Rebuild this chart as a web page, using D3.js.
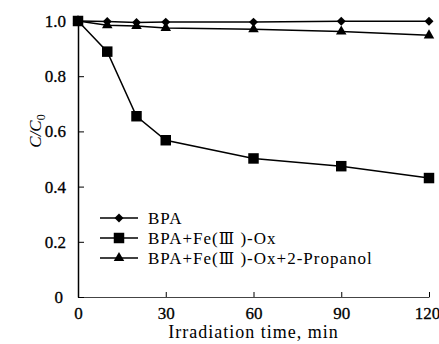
<!DOCTYPE html>
<html>
<head>
<meta charset="utf-8">
<script src="https://cdnjs.cloudflare.com/ajax/libs/d3/7.8.5/d3.min.js"></script>
<style>
  html, body { margin: 0; padding: 0; background: #fff; }
</style>
</head>
<body>
<svg width="439" height="344"></svg>
<script>
// irradiation times (min)
var times = [0, 10, 20, 30, 60, 90, 120];
// C/C0
var bpa = [1.0, 0.998, 0.995, 0.996, 0.996, 0.999, 0.999];
var bpaFe = [1.0, 0.889, 0.655, 0.568, 0.502, 0.474, 0.431];
var bpaFeProp = [1.0, 0.985, 0.982, 0.975, 0.970, 0.962, 0.948];

var seriesNames = ["BPA", "BPA+Fe(\u2162 )-Ox", "BPA+Fe(\u2162 )-Ox+2-Propanol"];
var xTicks = [0, 30, 60, 90, 120];
var yTicks = [0, 0.2, 0.4, 0.6, 0.8, 1.0];

var serif = "'Liberation Serif', 'Times New Roman', Times, serif";

var svg = d3.select("svg").attr("font-family", serif);

var x = d3.scaleLinear().domain([0, 120]).range([78, 429]);
var y = d3.scaleLinear().domain([0, 1]).range([297, 21]);

// diamond is a plain rotated square, not d3's tall one
var diamond = {
  draw: function(ctx, size) {
    var r = Math.sqrt(size / 2);
    ctx.moveTo(0, -r);
    ctx.lineTo(r, 0);
    ctx.lineTo(0, r);
    ctx.lineTo(-r, 0);
    ctx.closePath();
  }
};

var series = [
  { name: seriesNames[0], values: bpa, sym: d3.symbol(diamond, 40) },
  { name: seriesNames[1], values: bpaFe, sym: d3.symbol(d3.symbolSquare, 110) },
  { name: seriesNames[2], values: bpaFeProp, sym: d3.symbol(d3.symbolTriangle, 48) }
];

// axes
var xAxis = d3.axisBottom(x).tickValues(xTicks).tickSizeInner(-5).tickSizeOuter(0).tickPadding(10)
  .tickFormat(d3.format("d"));
var yAxis = d3.axisLeft(y).tickValues(yTicks).tickSizeInner(-6).tickSizeOuter(0).tickPadding(12)
  .tickFormat(function(d) { return d === 0 ? "0" : d3.format(".1f")(d); });

var gx = svg.append("g").attr("transform", "translate(0," + y(0) + ")").call(xAxis);
gx.attr("font-family", serif).attr("font-size", 17);
gx.select(".domain").attr("stroke", "#444").attr("stroke-width", 1);
gx.selectAll(".tick line").attr("stroke", "#000").attr("stroke-width", 1);
gx.selectAll(".tick text").attr("fill", "#000").attr("stroke", "#000").attr("stroke-width", 0.3);
gx.selectAll(".tick").filter(function(d) { return d === 120; }).select("text").attr("dx", -2);

var gy = svg.append("g").attr("transform", "translate(" + x(0) + ",0)").call(yAxis);
gy.attr("font-family", serif).attr("font-size", 17);
gy.select(".domain").attr("stroke", "#000").attr("stroke-width", 1.5);
gy.selectAll(".tick line").attr("stroke", "#000").attr("stroke-width", 1);
gy.selectAll(".tick text").attr("fill", "#000").attr("stroke", "#000").attr("stroke-width", 0.3);
gy.selectAll(".tick").filter(function(d) { return d === 0; }).select("text").attr("dx", -3);

// axis titles
svg.append("text")
  .attr("x", x(60)).attr("y", 338)
  .attr("text-anchor", "middle")
  .attr("font-size", 18)
  .attr("letter-spacing", 1)
  .attr("fill", "#000")
  .text("Irradiation time, min");

var yl = svg.append("text")
  .attr("transform", "translate(41,131) rotate(-90)")
  .attr("text-anchor", "middle")
  .attr("font-size", 17)
  .attr("fill", "#000")
  .attr("font-style", "italic");
yl.append("tspan").text("C/C");
yl.append("tspan").attr("font-size", 12).attr("dy", 4).attr("font-style", "normal").text("0");

// lines and markers
var line = d3.line()
  .x(function(d, i) { return x(times[i]); })
  .y(function(d) { return y(d); });

series.forEach(function(s) {
  svg.append("path")
    .attr("d", line(s.values))
    .attr("fill", "none")
    .attr("stroke", "#000")
    .attr("stroke-width", 1.5);
  svg.selectAll(null)
    .data(s.values)
    .enter().append("path")
    .attr("d", s.sym)
    .attr("fill", "#000")
    .attr("transform", function(d, i) { return "translate(" + x(times[i]) + "," + y(d) + ")"; });
});

// legend
var legend = svg.append("g").attr("transform", "translate(100,218)");
series.forEach(function(s, i) {
  var g = legend.append("g").attr("transform", "translate(0," + (i * 20) + ")");
  g.append("line").attr("x1", 0).attr("x2", 38).attr("stroke", "#000").attr("stroke-width", 1.5);
  g.append("path").attr("d", s.sym).attr("fill", "#000").attr("transform", "translate(19,0)");
  var t = g.append("text")
    .attr("x", 48).attr("dy", "0.35em")
    .attr("font-size", 17)
    .attr("letter-spacing", 1)
    .attr("fill", "#000");
  // the roman numeral looks better in DejaVu Serif
  s.name.split("\u2162").forEach(function(part, j) {
    if (j > 0) t.append("tspan").attr("font-family", "'DejaVu Serif', serif").attr("font-size", 16).text("\u2162");
    t.append("tspan").text(part);
  });
});
</script>
</body>
</html>
